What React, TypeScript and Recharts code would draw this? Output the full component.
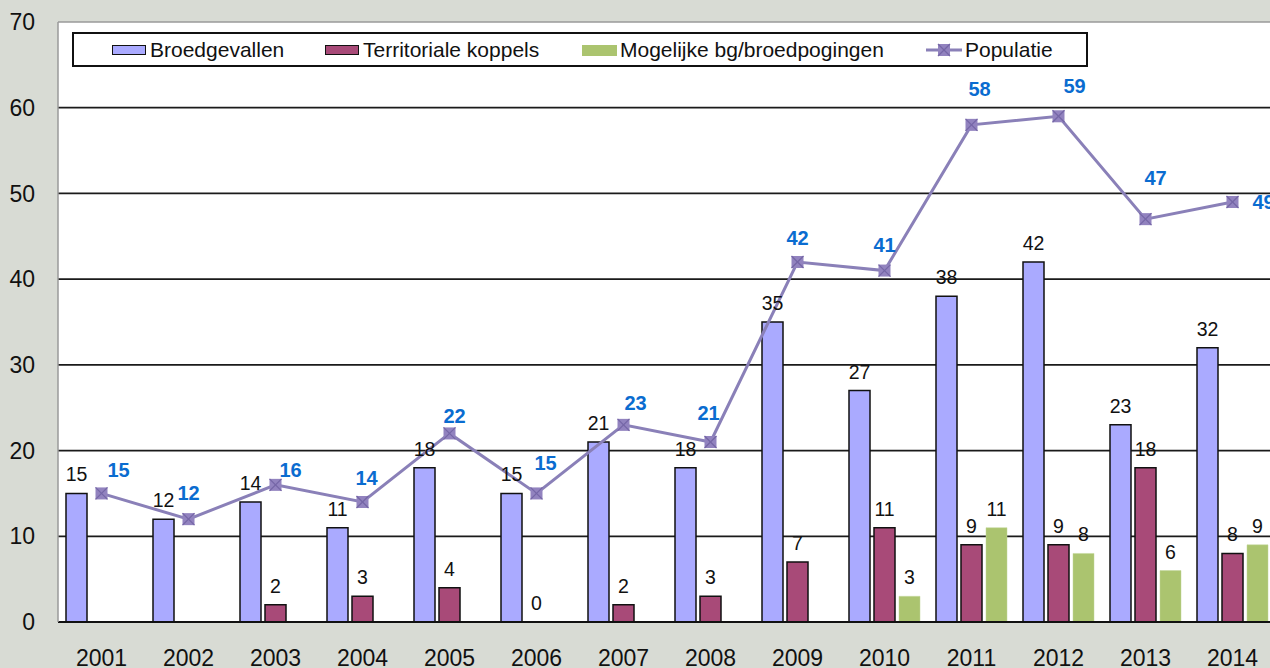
import React from 'react';
import {
  ComposedChart,
  Bar,
  Line,
  XAxis,
  YAxis,
  CartesianGrid,
  LabelList,
  Legend,
  ReferenceLine,
} from 'recharts';

// ---- data ----
const years = ['2001', '2002', '2003', '2004', '2005', '2006', '2007', '2008', '2009', '2010', '2011', '2012', '2013', '2014'];
const broedgevallen = [15, 12, 14, 11, 18, 15, 21, 18, 35, 27, 38, 42, 23, 32];
const territorialeKoppels: (number | null)[] = [null, null, 2, 3, 4, 0, 2, 3, 7, 11, 9, 9, 18, 8];
const mogelijkeBg: (number | null)[] = [null, null, null, null, null, null, null, null, null, 3, 11, 8, 6, 9];
const populatie = [15, 12, 16, 14, 22, 15, 23, 21, 42, 41, 58, 59, 47, 49];
const yTicks = [0, 10, 20, 30, 40, 50, 60, 70];

// label nudges (relative to each Population marker), style only
const popLabelDx = [17, 0, 15, 4, 5, 9, 12, -2, 0, 0, 8, 16, 10, 31];
const popLabelDy = [-23, -26, -15, -24, -17, -30, -22, -29, -24, -26, -36, -30, -41, 0];

const data = years.map((y, i) => ({
  year: y,
  broed: broedgevallen[i],
  terr: territorialeKoppels[i],
  mog: mogelijkeBg[i],
  pop: populatie[i],
}));

const FONT = '"Liberation Sans", Arial, Helvetica, sans-serif';
const BLUE = '#aaaaff';
const MAROON = '#a84a78';
const GREEN = '#abc46f';
const LINE = '#8a80b8';
const MARKER = '#9283bf';
const MARKER_X = '#7566a6';
const LABEL_BLUE = '#0a6cd0';

const Marker = (props: any) => {
  const { cx, cy, index } = props;
  if (cx == null || cy == null) return <g key={`m-${index}`} />;
  const s = 6;
  return (
    <g key={`m-${index}`}>
      <rect x={cx - s} y={cy - s} width={2 * s} height={2 * s} fill={MARKER} />
      <line x1={cx - s} y1={cy - s} x2={cx + s} y2={cy + s} stroke={MARKER_X} strokeWidth={1.2} />
      <line x1={cx - s} y1={cy + s} x2={cx + s} y2={cy - s} stroke={MARKER_X} strokeWidth={1.2} />
    </g>
  );
};

const PopLabel = (props: any) => {
  const { x, y, value, index } = props;
  if (value == null) return null;
  const i = typeof index === 'number' ? index : populatie.indexOf(value);
  const dx = popLabelDx[i] ?? 0;
  const dy = popLabelDy[i] ?? -24;
  return (
    <text
      x={x + dx}
      y={y + dy}
      textAnchor="middle"
      dominantBaseline="central"
      fontFamily={FONT}
      fontSize={20}
      fontWeight="bold"
      fill={LABEL_BLUE}
    >
      {value}
    </text>
  );
};

// label for zero-height bars (middle bar sits on the category centre)
const ZeroLabel = (props: any) => {
  const { x, y, value } = props;
  if (value !== 0 || x == null || y == null) return null;
  return (
    <text x={x} y={y - 12} textAnchor="middle" fontFamily={FONT} fontSize={19.5} fill="#111">
      {value}
    </text>
  );
};

const LegendBox = () => {
  const textStyle: React.CSSProperties = {
    position: 'absolute',
    top: 4,
    fontFamily: FONT,
    fontSize: 21,
    lineHeight: '24px',
    color: '#111',
    whiteSpace: 'nowrap',
  };
  const sw = (left: number, color: string, border: boolean): React.CSSProperties => ({
    position: 'absolute',
    left,
    top: 11,
    width: border ? 32 : 35,
    height: border ? 8 : 11,
    background: color,
    border: border ? '1.5px solid #111' : 'none',
  });
  return (
    <div
      style={{
        position: 'relative',
        width: 1012,
        height: 31,
        background: '#fff',
        border: '2px solid #111',
      }}
    >
      <div style={sw(38, BLUE, true)} />
      <div style={{ ...textStyle, left: 76 }}>Broedgevallen</div>
      <div style={sw(251, MAROON, true)} />
      <div style={{ ...textStyle, left: 289 }}>Territoriale koppels</div>
      <div style={sw(508, GREEN, false)} />
      <div style={{ ...textStyle, left: 546 }}>Mogelijke bg/broedpogingen</div>
      <svg style={{ position: 'absolute', left: 852, top: 8 }} width={38} height={16}>
        <line x1={0} y1={8} x2={36} y2={8} stroke={LINE} strokeWidth={3} />
        <rect x={12} y={2} width={12} height={12} fill={MARKER} />
        <line x1={12} y1={2} x2={24} y2={14} stroke={MARKER_X} strokeWidth={1.2} />
        <line x1={12} y1={14} x2={24} y2={2} stroke={MARKER_X} strokeWidth={1.2} />
      </svg>
      <div style={{ ...textStyle, left: 891 }}>Populatie</div>
    </div>
  );
};

export default function App() {
  return (
    <div
      style={{
        position: 'absolute',
        left: 0,
        top: 0,
        width: 1270,
        height: 668,
        overflow: 'hidden',
        background: '#d8dbd4',
      }}
    >
      <ComposedChart
        width={1290}
        height={700}
        data={data}
        margin={{ top: 22, right: 14, left: 0, bottom: 0 }}
        barGap={4}
        barCategoryGap={8}
      >
        <CartesianGrid
          vertical={false}
          horizontalValues={[10, 20, 30, 40, 50, 60]}
          stroke="#1a1a1a"
          strokeWidth={1.8}
          fill="#ffffff"
        />
        <XAxis
          dataKey="year"
          interval={0}
          height={78}
          tickSize={0}
          tickMargin={28}
          tickLine={false}
          axisLine={{ stroke: '#111', strokeWidth: 2 }}
          tick={{ fontFamily: FONT, fontSize: 23, fill: '#111' }}
        />
        <YAxis
          domain={[0, 70]}
          ticks={yTicks}
          interval={0}
          width={58}
          tickSize={0}
          tickMargin={23}
          tickLine={false}
          axisLine={{ stroke: '#9a9a9a', strokeWidth: 1.5 }}
          tick={{ fontFamily: FONT, fontSize: 23, fill: '#111' }}
        />
        <ReferenceLine y={70} stroke="#9a9a9a" strokeWidth={1.5} />
        <Legend
          verticalAlign="middle"
          align="center"
          layout="horizontal"
          content={() => <LegendBox />}
          wrapperStyle={{ position: 'absolute', left: 72, top: 32, width: 1016, height: 35 }}
        />
        <Bar dataKey="broed" name="Broedgevallen" fill={BLUE} stroke="#111" strokeWidth={1.5} isAnimationActive={false}>
          <LabelList dataKey="broed" position="top" offset={12} fontFamily={FONT} fontSize={19.5} fill="#111" />
        </Bar>
        <Bar dataKey="terr" name="Territoriale koppels" fill={MAROON} stroke="#111" strokeWidth={1.5} isAnimationActive={false}>
          <LabelList
            dataKey="terr"
            position="top"
            offset={12}
            fontFamily={FONT}
            fontSize={19.5}
            fill="#111"
            formatter={(v: any) => (v === 0 ? '' : v)}
          />
        </Bar>
        <Bar dataKey="mog" name="Mogelijke bg/broedpogingen" fill={GREEN} stroke="#c3d79a" strokeWidth={0.5} isAnimationActive={false}>
          <LabelList dataKey="mog" position="top" offset={12} fontFamily={FONT} fontSize={19.5} fill="#111" />
        </Bar>
        <Line
          dataKey="terr"
          name="terr-zero"
          legendType="none"
          stroke="none"
          dot={false}
          activeDot={false}
          isAnimationActive={false}
        >
          <LabelList dataKey="terr" content={ZeroLabel} />
        </Line>
        <Line
          dataKey="pop"
          name="Populatie"
          type="linear"
          stroke={LINE}
          strokeWidth={3}
          dot={Marker}
          activeDot={false}
          isAnimationActive={false}
        >
          <LabelList dataKey="pop" content={PopLabel} />
        </Line>
      </ComposedChart>
    </div>
  );
}
